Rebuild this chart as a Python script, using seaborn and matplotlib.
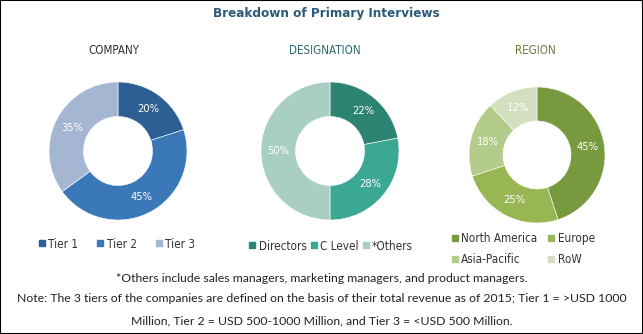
import matplotlib
matplotlib.use("Agg")
import matplotlib.pyplot as plt
import seaborn as sns
from matplotlib.lines import Line2D
from matplotlib.patches import Rectangle

sns.set_theme(style="white")
plt.rcParams['font.family'] = ['DejaVu Sans']

# ---- data ----
company_labels = ["Tier 1", "Tier 2", "Tier 3"]
company_values = [20, 45, 35]
company_colors = ["#2e5f94", "#3a78b8", "#a5b6d3"]

designation_labels = ["Directors", "C Level", "*Others"]
designation_values = [22, 28, 50]
designation_colors = ["#2e8472", "#3aa893", "#a9cfc5"]

region_labels = ["North America", "Europe", "Asia-Pacific", "RoW"]
region_values = [45, 25, 18, 12]
region_colors = ["#789a3e", "#98b653", "#b3cb8b", "#d3dfbf"]

title = "Breakdown of Primary Interviews"
subtitles = ["COMPANY", "DESIGNATION", "REGION"]
notes = ["*Others include sales managers, marketing managers, and product managers.",
         "Note: The 3 tiers of the companies are defined on the basis of their total revenue as of 2015; Tier 1 = >USD 1000",
         "Million, Tier 2 = USD 500-1000 Million, and Tier 3 = <USD 500 Million."]

W, H = 643, 334
fig = plt.figure(figsize=(W / 100, H / 100), dpi=100)
fig.patch.set_facecolor("white")


def donut(cx, cy, r, values, colors):
    ax = fig.add_axes([(cx - r) / W, (H - cy - r) / H, 2 * r / W, 2 * r / H])
    ax.pie(values, colors=colors, startangle=90, counterclock=False, radius=1,
           wedgeprops=dict(width=0.5, edgecolor="white", linewidth=0.4),
           autopct=lambda p: f"{p:.0f}%", pctdistance=0.75,
           textprops=dict(color="white", fontsize=8, family="DejaVu Sans",
                          fontstretch="condensed"))
    ax.set_xlim(-1, 1)
    ax.set_ylim(-1, 1)
    ax.set_aspect("equal")
    ax.axis("off")
    return ax


donut(118, 151, 69, company_values, company_colors)
donut(330, 151, 69, designation_values, designation_colors)
donut(537, 155, 68, region_values, region_colors)


def legend(labels, colors, x, y, ncol, colspace, order=None):
    handles = [Line2D([], [], marker="s", linestyle="none", markersize=4.5,
                      markerfacecolor=c, markeredgecolor=c) for c in colors]
    if order is not None:
        handles = [handles[i] for i in order]
        labels = [labels[i] for i in order]
    fig.legend(handles, labels, loc="center", bbox_to_anchor=(x / W, 1 - y / H),
               ncol=ncol, frameon=False, handlelength=0.6,
               handletextpad=0.25, columnspacing=colspace, labelspacing=0.75,
               labelcolor="#333333",
               prop=dict(family="DejaVu Sans", stretch="condensed", size=8.4))


legend(company_labels, company_colors, 117, 244, 3, 1.6)
legend(designation_labels, designation_colors, 331, 246, 3, 0.3)
legend(region_labels, region_colors, 523, 249, 2, 0.9, order=[0, 2, 1, 3])

fig.text(326 / W, 1 - 13 / H, title, ha="center", va="center", fontsize=9.6,
         fontweight="bold", color="#2b5a78", fontstretch="condensed")
sub_x = [114, 325, 535]
sub_colors = ["#333333", "#2e6b6b", "#7a7a40"]
for s, x, c in zip(subtitles, sub_x, sub_colors):
    fig.text(x / W, 1 - 51 / H, s, ha="center", va="center", fontsize=8.3,
             color=c, fontstretch="condensed")

note_y = [279, 298, 321]
for t, y in zip(notes, note_y):
    fig.text(322 / W, 1 - y / H, t, ha="center", va="center", fontsize=8.8,
             color="#222222", family="Lato")

fig.patches.append(Rectangle((0, 0), 1, 1, transform=fig.transFigure, fill=False,
                             edgecolor="black", linewidth=1.5))

fig.savefig("out.png", dpi=100, facecolor="white")
